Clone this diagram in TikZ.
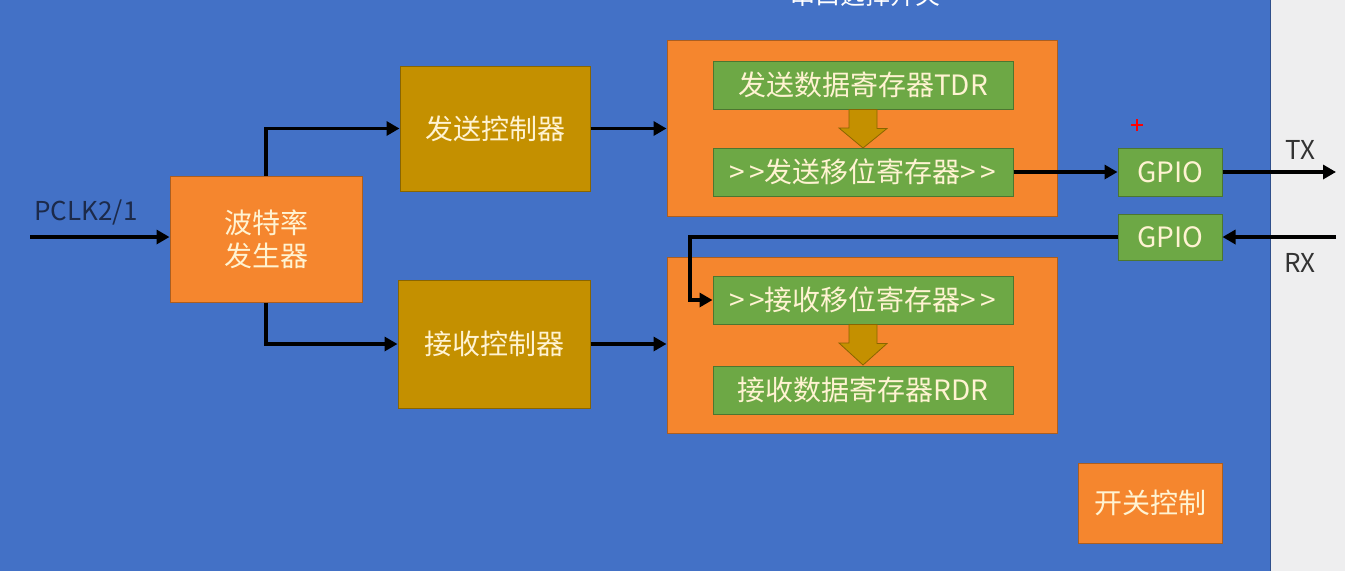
\documentclass[tikz,border=0pt]{standalone}
\usepackage{fontspec}
\setmainfont{Noto Sans CJK SC}
\usetikzlibrary{arrows.meta}
\definecolor{bgblue}{HTML}{4371C6}
\definecolor{sidegrey}{HTML}{EEEEEF}
\definecolor{orng}{HTML}{F5862E}
\definecolor{gold}{HTML}{C49000}
\definecolor{grn}{HTML}{6DA845}
\definecolor{cream}{HTML}{FFF3D2}
\definecolor{navy}{HTML}{1C2A4A}
\newcommand{\gtgt}{>\hspace{4pt}>}
\tikzset{
  box/.style={draw=#1!70!black, line width=1pt, fill=#1, inner sep=0pt, align=center,
    text=cream, font=\fontsize{28}{33}\selectfont},
  obox/.style={box=orng},
  gbox/.style={box=gold},
  rbox/.style={box=grn},
  arr/.style={line width=3.8pt, draw=black, -{Triangle[length=13pt,width=14pt]}},
  blockarrow/.style={fill=gold, draw=gold!70!black, line width=0.8pt},
  lbl/.style={font=\fontsize{26}{30}\selectfont, inner sep=0pt}
}
\begin{document}
\begin{tikzpicture}[x=1pt,y=-1pt]
\useasboundingbox (0,0) rectangle (1345,571);
\fill[bgblue] (0,0) rectangle (1270,571);
\fill[sidegrey] (1270,0) rectangle (1345,571);
\draw[line width=1pt, draw=bgblue!70!black] (1270,0) -- (1270,571);
% title, cut off at the top edge as in the reference
\begin{scope}
\clip (0,0) rectangle (1345,571);
\node[text=white, font=\fontsize{25}{30}\selectfont, inner sep=0pt] (title) at (865,-5) {串口选择开关};
\end{scope}

% big containers
\node[obox, minimum width=390pt, minimum height=176pt] (topbox) at (862,128) {};
\node[obox, minimum width=390pt, minimum height=176pt] (botbox) at (862,345) {};

% nodes
\node[obox, minimum width=192pt, minimum height=126pt] (baud) at (266,239) {波特率\\发生器};
\node[gbox, minimum width=190pt, minimum height=125pt] (txc) at (495,128.5) {发送控制器};
\node[gbox, minimum width=192pt, minimum height=128pt] (rxc) at (494,344) {接收控制器};
\node[rbox, minimum width=300pt, minimum height=48pt] (tdr) at (863,85) {发送数据寄存器TDR};
\node[rbox, minimum width=300pt, minimum height=48pt] (tsr) at (863,172) {\gtgt 发送移位寄存器\gtgt};
\node[rbox, minimum width=300pt, minimum height=48pt] (rsr) at (863,300) {\gtgt 接收移位寄存器\gtgt};
\node[rbox, minimum width=300pt, minimum height=48pt] (rdr) at (863,390) {接收数据寄存器RDR};
\node[rbox, minimum width=104pt, minimum height=48pt] (gpio1) at (1170,172) {GPIO};
\node[rbox, minimum width=104pt, minimum height=46pt] (gpio2) at (1170,237) {GPIO};
\node[obox, minimum width=144pt, minimum height=80pt] (sw) at (1150,503) {开关控制};

% block arrows
\draw[blockarrow] (tdr.south) ++(-14,0) -- ++(28,0) -- ++(0,19) -- ++(10,0) -- (863,148) -- (839,128) -- ++(10,0) -- cycle;
\draw[blockarrow] (rsr.south) ++(-14,0) -- ++(28,0) -- ++(0,19) -- ++(10,0) -- (863,365) -- (839,343) -- ++(10,0) -- cycle;

% labels
\node[lbl, text=navy] (pclklbl) at (86,213) {PCLK2/1};
\node[lbl, text=black!80] (txlbl) at (1300,150) {TX};
\node[lbl, text=black!80] (rxlbl) at (1300,263) {RX};

% coordinates
\coordinate (pclk) at (30,237);
\coordinate (txend) at (1336,172);
\coordinate (rxstart) at (1336,237);
\coordinate (bend) at (690,237);

% connectors
\draw[arr] (pclk) -- (baud.west |- pclk);
\draw[arr] (baud.north) |- (txc.west);
\draw[arr] (baud.south) |- (rxc.west);
\draw[arr] (txc.east) -- (txc.east -| topbox.west);
\draw[arr] (rxc.east) -- (rxc.east -| botbox.west);
\draw[arr] (tsr.east) -- (gpio1.west);
\draw[arr] (gpio1.east) -- (txend);
\draw[arr] (rxstart) -- (gpio2.east);
\draw[arr] (gpio2.west) -- (bend) |- (rsr.west);

% red cursor mark
\draw[red, line width=2pt] (1131,125) -- (1143,125) (1137,119) -- (1137,131);
\end{tikzpicture}
\end{document}
